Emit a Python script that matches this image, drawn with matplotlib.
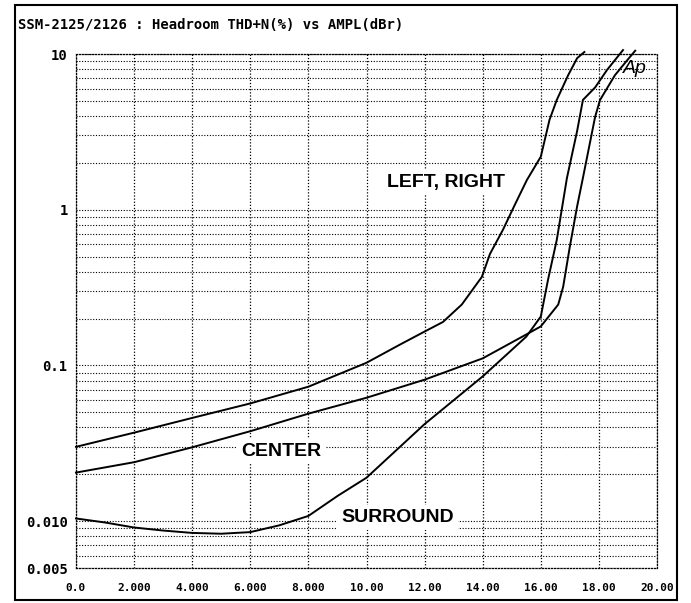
import matplotlib
matplotlib.use("Agg")
import matplotlib.pyplot as plt
from matplotlib.patches import Rectangle

# Kurven (x in dBr, y in THD+N %)
lr_x = [0, 2, 4, 6, 8, 10, 11.15, 12, 12.63, 13.28, 13.97, 14.25, 14.7, 15.1,
        15.52, 16.0, 16.3, 16.55, 16.94, 17.25, 17.5]
lr_y = [0.030, 0.037, 0.046, 0.057, 0.073, 0.104, 0.136, 0.165, 0.19, 0.246,
        0.37, 0.52, 0.745, 1.07, 1.55, 2.19, 3.78, 5.07, 7.3, 9.4, 10.3]

center_x = [0, 2, 4, 6, 8, 10, 12, 14, 15.5, 16.0, 16.6, 16.77, 17.0, 17.25,
            17.45, 17.87, 18.04, 18.55, 18.97, 19.25]
center_y = [0.0205, 0.0239, 0.0298, 0.0378, 0.049, 0.062, 0.081, 0.111, 0.158,
            0.178, 0.246, 0.32, 0.58, 1.05, 1.6, 3.95, 5.07, 7.3, 9.1, 10.5]

surr_x = [0, 1, 2, 3, 4, 5, 6, 7, 8, 9, 10, 12, 14, 15.5, 16.0, 16.25, 16.55,
          16.9, 17.25, 17.45, 17.87, 18.28, 18.83]
surr_y = [0.0104, 0.0098, 0.0091, 0.0087, 0.0084, 0.0083, 0.0085, 0.0094,
          0.0108, 0.0145, 0.019, 0.042, 0.085, 0.153, 0.206, 0.356, 0.64, 1.6,
          3.2, 5.07, 6.1, 7.9, 10.6]

xticks = [0, 2, 4, 6, 8, 10, 12, 14, 16, 18, 20]
xticklabels = ["0.0", "2.000", "4.000", "6.000", "8.000", "10.00", "12.00",
               "14.00", "16.00", "18.00", "20.00"]
yticks = [10, 1, 0.1, 0.01, 0.005]
yticklabels = ["10", "1", "0.1", "0.010", "0.005"]

titel = "SSM-2125/2126 : Headroom THD+N(%) vs AMPL(dBr)"

fig = plt.figure(figsize=(6.91, 6.03), dpi=100)
ax = fig.add_axes([76/691, 1-568/603, (657-76)/691, (568-54)/603])

for xs, ys in [(lr_x, lr_y), (center_x, center_y), (surr_x, surr_y)]:
    ax.plot(xs, ys, color="black", lw=1.4, clip_on=False, zorder=3)

ax.set_yscale("log")
ax.set_xlim(0, 20)
ax.set_ylim(0.005, 10)

ax.set_xticks(xticks)
ax.set_xticklabels(xticklabels, family="DejaVu Sans Mono", weight="bold", fontsize=8)
ax.set_yticks(yticks)
ax.set_yticklabels(yticklabels, family="DejaVu Sans Mono", weight="bold", fontsize=10)
ax.yaxis.set_minor_formatter(plt.NullFormatter())
ax.tick_params(axis="both", which="both", length=0)
ax.tick_params(axis="x", pad=11)
ax.tick_params(axis="y", pad=6)

ax.grid(True, which="major", axis="x", color="black", ls=(0, (1, 1.5)), lw=0.9)
ax.grid(True, which="both", axis="y", color="black", ls=(0, (1, 1.5)), lw=0.8)
for s in ax.spines.values():
    s.set_linestyle((0, (1, 1.5)))
    s.set_linewidth(0.9)

box = dict(facecolor="white", edgecolor="none", pad=3)
ax.text(12.74, 1.49, "LEFT, RIGHT", family="Liberation Sans", weight="bold",
        fontsize=14, ha="center", va="center", bbox=box, zorder=4)
ax.text(7.06, 0.0281, "CENTER", family="Liberation Sans", weight="bold",
        fontsize=14, ha="center", va="center", bbox=box, zorder=4)
ax.text(11.08, 0.0106, "SURROUND", family="Liberation Sans", weight="bold",
        fontsize=14, ha="center", va="center", bbox=box, zorder=4)
ax.text(19.25, 8.1, "Ap", family="Liberation Sans", style="italic",
        fontsize=14, ha="center", va="center", zorder=4)

fig.text(18/691, 1-25/603, titel, family="DejaVu Sans Mono", weight="bold",
         fontsize=10, ha="left", va="center")

fig.patches.append(Rectangle((15/691, 1-600/603), (677-15)/691, (600-5)/603,
                             transform=fig.transFigure, fill=False,
                             edgecolor="black", lw=1.5))

fig.savefig("out.png", dpi=100)
